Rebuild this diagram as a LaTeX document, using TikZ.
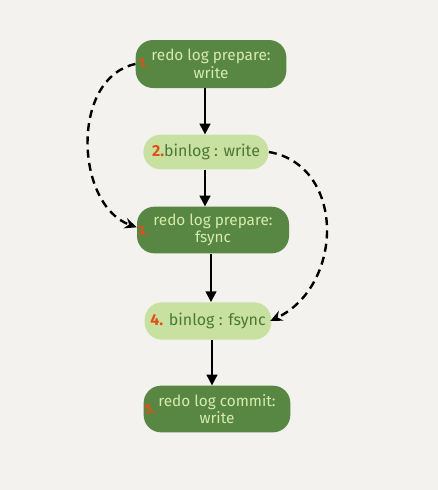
\documentclass[tikz,border=0pt]{standalone}
\usepackage{fontspec}
\setmainfont{Fira Sans}
\usepackage{tikz}
\usetikzlibrary{arrows.meta}

\definecolor{bgpaper}{RGB}{244,242,238}
\definecolor{darkleaf}{RGB}{88,135,68}
\definecolor{lightleaf}{RGB}{200,225,160}
\definecolor{paletext}{RGB}{215,235,170}
\definecolor{deeptext}{RGB}{75,120,55}
\definecolor{stepnum}{RGB}{225,80,25}

\tikzset{
  darkbox/.style={fill=darkleaf, text=paletext, rounded corners=13pt, align=center, inner sep=2pt, font=\fontsize{11.5}{13}\selectfont},
  lightbox/.style={fill=lightleaf, text=deeptext, rounded corners=13pt, align=center, inner sep=2pt, font=\large},
  stepnumber/.style={text=stepnum, font=\normalsize\bfseries, inner sep=0pt},
  flow/.style={line width=1.6pt, -{Triangle[length=8pt,width=8pt]}},
  jump/.style={line width=1.8pt, dash pattern=on 6pt off 4pt, -{Stealth[length=9pt,width=8pt]}}
}

\begin{document}
\begin{tikzpicture}[x=0.75pt,y=0.75pt,yscale=-1,xscale=1]
%set diagram size 438 x 490
\fill[bgpaper] (0,0) rectangle (438,490);
\useasboundingbox (0,0) rectangle (438,490);

% Text Node
\node[darkbox, minimum width=113pt, minimum height=36pt] (prepw) at (211,64) {redo log prepare:\\write};
% Text Node
\node[lightbox, minimum width=94pt, minimum height=26pt] (binw) at (206,152) {\textcolor{stepnum}{\bfseries 2.}binlog : write};
% Text Node
\node[darkbox, minimum width=114pt, minimum height=35pt] (prepf) at (213,230) {redo log prepare:\\fsync};
% Text Node
\node[lightbox, minimum width=95pt, minimum height=28pt] (binf) at (208,321) {\textcolor{stepnum}{\bfseries 4.} binlog : fsync};
% Text Node
\node[darkbox, minimum width=110pt, minimum height=35pt] (commw) at (217,409) {redo log commit:\\write};

% step numbers
\node[stepnumber] (num1) at (143,63) {1.};
\node[stepnumber] (num3) at (143,231) {3.};
\node[stepnumber] (num5) at (150,409) {5.};

%Straight Lines
\draw[flow] (prepw.south -| 205,0) -- (binw.north -| 205,0);
\draw[flow] (binw.south -| 205,0) -- (prepf.north -| 205,0);
\draw[flow] (prepf.south -| 211,0) -- (binf.north -| 211,0);
\draw[flow] (binf.south -| 212,0) -- (commw.north -| 212,0);

%Curves
\draw[jump] (prepw.west) .. controls (70,78) and (75,205) .. ([yshift=-2pt]prepf.west);
\draw[jump] (binw.east) .. controls (345,165) and (345,285) .. ([xshift=-1pt]binf.east);

\end{tikzpicture}
\end{document}
